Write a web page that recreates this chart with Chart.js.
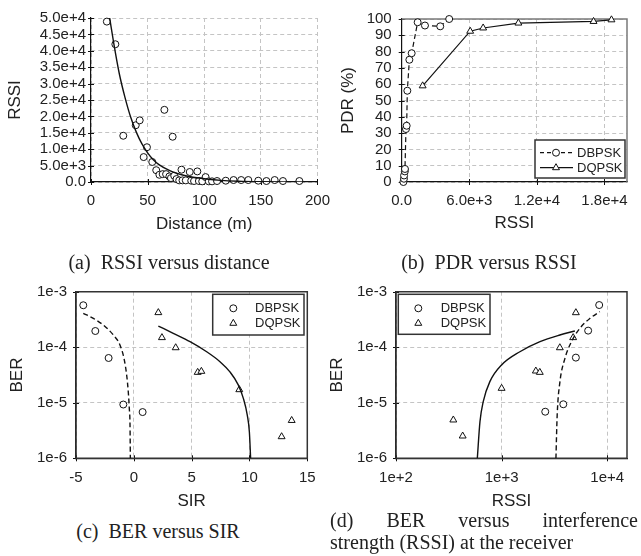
<!DOCTYPE html>
<html><head><meta charset="utf-8">
<script src="https://cdn.jsdelivr.net/npm/chart.js@4.4.0/dist/chart.umd.min.js"></script>
<style>
body{margin:0;background:#fff;width:641px;height:556px;position:relative;overflow:hidden}
canvas{position:absolute}
.cap{position:absolute;font-family:"Liberation Serif",serif;font-size:20px;line-height:24px;color:#222;white-space:nowrap}
.l1{display:flex;justify-content:space-between}
</style></head><body>
<canvas id="ca" width="340" height="240" style="left:0;top:0;width:340px;height:240px"></canvas>
<canvas id="cb" width="316" height="240" style="left:325px;top:0;width:316px;height:240px"></canvas>
<canvas id="cc" width="330" height="245" style="left:0;top:270px;width:330px;height:245px"></canvas>
<canvas id="cd" width="319" height="245" style="left:322px;top:270px;width:319px;height:245px"></canvas>
<div class="cap" style="left:0;top:250px;width:338px;text-align:center">(a)&ensp;RSSI versus distance</div>
<div class="cap" style="left:339px;top:250px;width:300px;text-align:center">(b)&ensp;PDR versus RSSI</div>
<div class="cap" style="left:0;top:519px;width:316px;text-align:center">(c)&ensp;BER versus SIR</div>
<div class="cap" style="left:330px;top:509px;width:308px;line-height:22px"><div class="l1"><span>(d)</span><span>BER</span><span>versus</span><span>interference</span></div><div>strength (RSSI) at the receiver</div></div>
<script>
// ---------- data ----------
const seriesNames = ['DBPSK', 'DQPSK'];

// (a) RSSI versus distance
const distA = [14, 21.5, 28.5, 39.5, 43, 46.5, 49.4, 54.1, 57.6, 60.4, 63.3, 64.8, 66.3, 69.2, 70.6, 72.1, 73.5, 75.5, 77.9, 79.9, 80.8, 83.7, 87.2, 88.5, 91, 93.9, 95.3, 98.2, 101.2, 104, 106.9, 111.3, 119, 125.9, 132.6, 138.9, 147.7, 154.9, 162.2, 169.5, 184];
const rssiA = [48900, 42000, 14100, 17300, 18800, 7600, 10600, 6100, 3600, 2200, 2400, 22000, 2400, 1700, 1200, 13800, 1900, 900, 500, 3750, 500, 500, 3050, 400, 300, 3230, 300, 200, 1500, 200, 200, 300, 400, 600, 600, 600, 400, 300, 600, 300, 300];
const fitDistA = [16.5, 20, 25, 30, 35, 40, 45, 50, 55, 60, 70, 80, 90, 100, 115, 130, 150, 175, 200];
const fitRssiA = [50000, 42500, 33000, 25800, 19800, 15200, 11600, 8900, 6800, 5300, 3400, 2200, 1450, 1000, 500, 250, 100, 30, 0];
const aXTicks = [0, 50, 100, 150, 200];
const aXTickLabels = ['0', '50', '100', '150', '200'];
const aYTicks = [0, 5000, 10000, 15000, 20000, 25000, 30000, 35000, 40000, 45000, 50000];
const aYTickLabels = ['0.0', '5.0e+3', '1.0e+4', '1.5e+4', '2.0e+4', '2.5e+4', '3.0e+4', '3.5e+4', '4.0e+4', '4.5e+4', '5.0e+4'];

// (b) PDR versus RSSI
const bpskRssiB = [150, 200, 210, 280, 290, 380, 440, 500, 680, 885, 1416, 2063, 3420, 4215];
const bpskPdrB = [0, 2, 4, 6.5, 8, 32.5, 34.5, 56, 75, 79, 98, 96, 95.5, 100];
const qpskRssiB = [1860, 6080, 7230, 10360, 17030, 18620];
const qpskPdrB = [59, 92.5, 94.5, 97.5, 98.5, 99.5];
const bXTicks = [0, 6000, 12000, 18000];
const bXTickLabels = ['0.0', '6.0e+3', '1.2e+4', '1.8e+4'];
const bYTicks = [0, 10, 20, 30, 40, 50, 60, 70, 80, 90, 100];
const bYTickLabels = ['0', '10', '20', '30', '40', '50', '60', '70', '80', '90', '100'];

// (c) BER versus SIR
const bpskSirC = [-4.37, -3.33, -2.18, -0.91, 0.76];
const bpskBerC = [5.7e-4, 1.96e-4, 6.4e-5, 9.3e-6, 6.8e-6];
const qpskSirC = [2.12, 2.43, 3.62, 5.52, 5.84, 9.12, 12.78, 13.65];
const qpskBerC = [4.2e-4, 1.49e-4, 9.8e-5, 3.53e-5, 3.68e-5, 1.72e-5, 2.45e-6, 4.8e-6];
const bpskFitSirC = [-4.37, -3.5, -2.64, -1.77, -1.2, -0.85, -0.62, -0.48, -0.39, -0.33, -0.3];
const bpskFitBerC = [4.07e-4, 3.31e-4, 2.51e-4, 1.66e-4, 1.1e-4, 6.3e-5, 3.16e-5, 1.58e-5, 7.9e-6, 4.0e-6, 1e-6];
const qpskFitSirC = [2.12, 3.41, 4.86, 6.3, 7.45, 8.31, 9.03, 9.47, 9.81, 9.99, 10.1];
const qpskFitBerC = [2.41e-4, 1.78e-4, 1.26e-4, 8.3e-5, 5.5e-5, 3.6e-5, 2.1e-5, 1.2e-5, 6.0e-6, 3.0e-6, 1e-6];
const cXTicks = [-5, 0, 5, 10, 15];
const cXTickLabels = ['-5', '0', '5', '10', '15'];
const berTicks = [1e-6, 1e-5, 1e-4, 1e-3];
const berTickLabels = ['1e-6', '1e-5', '1e-4', '1e-3'];

// (d) BER versus interference strength (RSSI)
const bpskRssiD = [8400, 6600, 5050, 3840, 2590];
const bpskBerD = [5.75e-4, 1.99e-4, 6.5e-5, 9.4e-6, 6.9e-6];
const qpskRssiD = [5050, 4760, 3560, 2110, 2300, 1000, 349, 428];
const qpskBerD = [4.19e-4, 1.49e-4, 9.8e-5, 3.73e-5, 3.53e-5, 1.82e-5, 4.9e-6, 2.52e-6];
const qpskFitRssiD = [589, 624, 670, 774, 1000, 1490, 2310, 3560, 4940];
const qpskFitBerD = [1e-6, 4.57e-6, 1.05e-5, 2.4e-5, 4.8e-5, 8.3e-5, 1.26e-4, 1.66e-4, 1.96e-4];
const bpskFitRssiD = [3270, 3360, 3570, 3980, 4590, 5510, 6850, 8510];
const bpskFitBerD = [1e-6, 6e-6, 2.4e-5, 6.3e-5, 1.26e-4, 2.19e-4, 3.3e-4, 4.37e-4];
const dXTicks = [100, 1000, 10000];
const dXTickLabels = ['1e+2', '1e+3', '1e+4'];

// ---------- helpers ----------
const pts = (xs, ys) => xs.map((x, i) => ({x: x, y: ys[i]}));
const INK = '#111';
const GRID = '#c4c4c4';
const tickFont = {family: 'Liberation Sans', size: 15};
const titleFont = {family: 'Liberation Sans', size: 17};

const crossTicks = {
  id: 'crossTicks',
  beforeDatasetsDraw(chart, args, o) {
    const ctx = chart.ctx, a = chart.chartArea, len = o.len || 3;
    const xs = chart.scales.x, ys = chart.scales.y;
    ctx.save();
    ctx.strokeStyle = o.color || INK; ctx.lineWidth = 1;
    xs.ticks.forEach(t => { const p = Math.round(xs.getPixelForValue(t.value)) + 0.5;
      ctx.beginPath(); ctx.moveTo(p, a.bottom - len); ctx.lineTo(p, a.bottom + len); ctx.stroke(); });
    ys.ticks.forEach(t => { const p = Math.round(ys.getPixelForValue(t.value)) + 0.5;
      ctx.beginPath(); ctx.moveTo(a.left - len, p); ctx.lineTo(a.left + len, p); ctx.stroke(); });
    ctx.restore();
  }
};
const frame = {
  id: 'frame',
  beforeDatasetsDraw(chart, args, o) {
    if (!o.color) return;
    const ctx = chart.ctx, a = chart.chartArea;
    ctx.save(); ctx.strokeStyle = o.color; ctx.lineWidth = o.width || 1.5;
    ctx.beginPath();
    ctx.moveTo(a.left, a.top); ctx.lineTo(a.right, a.top); ctx.lineTo(a.right, a.bottom);
    if (o.full) { ctx.lineTo(a.left, a.bottom); ctx.closePath(); }
    ctx.stroke(); ctx.restore();
  }
};
const boxLegend = {
  id: 'boxLegend',
  afterDraw(chart, args, o) {
    if (!o.items) return;
    const ctx = chart.ctx;
    ctx.save();
    ctx.fillStyle = '#fff'; ctx.fillRect(o.x, o.y, o.w, o.h);
    ctx.strokeStyle = '#333'; ctx.lineWidth = 1.5; ctx.strokeRect(o.x, o.y, o.w, o.h);
    o.items.forEach((it, i) => {
      const cy = o.y + o.first + i * o.step;
      if (it.line) {
        ctx.strokeStyle = INK; ctx.lineWidth = 1.2; ctx.setLineDash(it.dash || []);
        ctx.beginPath(); ctx.moveTo(o.lx0, cy); ctx.lineTo(o.lx1, cy); ctx.stroke(); ctx.setLineDash([]);
      }
      ctx.fillStyle = '#fff'; ctx.strokeStyle = INK; ctx.lineWidth = 1;
      Chart.helpers.drawPoint(ctx, {pointStyle: it.style, radius: it.style === 'triangle' ? 4 : 3.5, rotation: 0, borderWidth: 1}, o.mx, cy);
      ctx.fillStyle = '#222'; ctx.font = '13px "Liberation Sans"'; ctx.textBaseline = 'middle'; ctx.textAlign = 'left';
      ctx.fillText(it.text, o.tx, cy + 0.5);
    });
    ctx.restore();
  }
};

function fixed(list) { return s => { s.ticks = list.map(v => ({value: v})); }; }
function xAxis(type, min, max, ticks, labels, title, tPadBottom, lblPad, height) {
  return {
    type: type, min: min, max: max, position: 'bottom',
    afterBuildTicks: fixed(ticks),
    afterFit: s => { s.height = height; },
    ticks: {font: tickFont, color: '#222', padding: lblPad, maxRotation: 0, autoSkip: false,
            callback: (v, i) => labels[i]},
    grid: {color: GRID, drawTicks: false, lineWidth: 1},
    border: {color: INK, width: 1.2, dash: [4, 3]},
    title: {display: true, text: title, font: titleFont, color: '#222', padding: {top: 0, bottom: tPadBottom}}
  };
}
function yAxis(type, min, max, ticks, labels, title, tPad, lblPad, width) {
  return {
    type: type, min: min, max: max,
    afterBuildTicks: fixed(ticks),
    afterFit: s => { s.width = width; },
    ticks: {font: tickFont, color: '#222', padding: lblPad, autoSkip: false,
            callback: (v, i) => labels[i]},
    grid: {color: GRID, drawTicks: false, lineWidth: 1},
    border: {color: INK, width: 1.2, dash: [4, 3]},
    title: {display: true, text: title, font: titleFont, color: '#222', padding: {top: tPad, bottom: 0}}
  };
}
const circ = {pointStyle: 'circle', pointRadius: 3.5, pointBorderWidth: 1, pointBorderColor: INK, pointBackgroundColor: '#fff', clip: false};
const tri = {pointStyle: 'triangle', pointRadius: 4, pointBorderWidth: 1, pointBorderColor: INK, pointBackgroundColor: '#fff', clip: false};
const curve = (dash) => ({showLine: true, pointRadius: 0, borderColor: INK, borderWidth: 1.4, borderDash: dash, cubicInterpolationMode: 'monotone', fill: false});
const base = {responsive: false, animation: false, devicePixelRatio: 1,
  plugins: {legend: {display: false}, tooltip: {enabled: false}}};

Chart.defaults.font.family = 'Liberation Sans';

// (a)
new Chart(document.getElementById('ca'), {
  type: 'scatter',
  data: {datasets: [
    Object.assign({data: pts(fitDistA, fitRssiA)}, curve([])),
    Object.assign({data: pts(distA, rssiA), showLine: false}, circ)
  ]},
  options: Object.assign({}, base, {
    layout: {padding: {top: 18, right: 20, left: 0, bottom: 0}},
    scales: {
      x: xAxis('linear', 0, 200, aXTicks, aXTickLabels, 'Distance (m)', 5, 10, 58),
      y: yAxis('linear', 0, 50000, aYTicks, aYTickLabels, 'RSSI', 5, 5, 91)
    },
    plugins: Object.assign({}, base.plugins, {crossTicks: {len: 3}})
  }),
  plugins: [crossTicks, frame, boxLegend]
});

// (b)
new Chart(document.getElementById('cb'), {
  type: 'scatter',
  data: {datasets: [
    Object.assign({data: pts(bpskRssiB, bpskPdrB), showLine: true, borderColor: INK, borderWidth: 1.2, borderDash: [5, 3]}, circ),
    Object.assign({data: pts(qpskRssiB, qpskPdrB), showLine: true, borderColor: INK, borderWidth: 1.2}, tri)
  ]},
  options: Object.assign({}, base, {
    layout: {padding: {top: 18, right: 14, left: 0, bottom: 0}},
    scales: {
      x: xAxis('linear', 0, 20000, bXTicks, bXTickLabels, 'RSSI', 6, 10, 58),
      y: yAxis('linear', 0, 100, bYTicks, bYTickLabels, 'PDR (%)', 13, 10, 76.7)
    },
    plugins: Object.assign({}, base.plugins, {
      crossTicks: {len: 3},
      frame: {color: '#7a7a7a', width: 1.5},
      boxLegend: {x: 210, y: 140, w: 90, h: 38, first: 12.7, step: 15, lx0: 215, lx1: 248, mx: 231, tx: 252,
        items: [{text: seriesNames[0], style: 'circle', line: true, dash: [4, 3]}, {text: seriesNames[1], style: 'triangle', line: true}]}
    })
  }),
  plugins: [crossTicks, frame, boxLegend]
});

// (c)
new Chart(document.getElementById('cc'), {
  type: 'scatter',
  data: {datasets: [
    Object.assign({data: pts(bpskFitSirC, bpskFitBerC)}, curve([5, 3])),
    Object.assign({data: pts(qpskFitSirC, qpskFitBerC)}, curve([])),
    Object.assign({data: pts(bpskSirC, bpskBerC)}, circ),
    Object.assign({data: pts(qpskSirC, qpskBerC)}, tri)
  ]},
  options: Object.assign({}, base, {
    layout: {padding: {top: 21.7, right: 22.7, left: 0, bottom: 0}},
    scales: {
      x: xAxis('linear', -5, 15, cXTicks, cXTickLabels, 'SIR', 3, 11, 56.7),
      y: yAxis('logarithmic', 1e-6, 1e-3, berTicks, berTickLabels, 'BER', 7, 9, 76)
    },
    plugins: Object.assign({}, base.plugins, {
      crossTicks: {len: 3},
      frame: {color: '#333', width: 1.5, full: true},
      boxLegend: {x: 212.7, y: 24.3, w: 91.3, h: 40.7, first: 14, step: 15, mx: 233.3, tx: 255,
        items: [{text: seriesNames[0], style: 'circle'}, {text: seriesNames[1], style: 'triangle'}]}
    })
  }),
  plugins: [crossTicks, frame, boxLegend]
});

// (d)
new Chart(document.getElementById('cd'), {
  type: 'scatter',
  data: {datasets: [
    Object.assign({data: pts(bpskFitRssiD, bpskFitBerD)}, curve([5, 3])),
    Object.assign({data: pts(qpskFitRssiD, qpskFitBerD)}, curve([])),
    Object.assign({data: pts(bpskRssiD, bpskBerD)}, circ),
    Object.assign({data: pts(qpskRssiD, qpskBerD)}, tri)
  ]},
  options: Object.assign({}, base, {
    layout: {padding: {top: 21.7, right: 14, left: 0, bottom: 0}},
    scales: {
      x: xAxis('logarithmic', 100, 15400, dXTicks, dXTickLabels, 'RSSI', 3, 11, 56.7),
      y: yAxis('logarithmic', 1e-6, 1e-3, berTicks, berTickLabels, 'BER', 5, 9, 74)
    },
    plugins: Object.assign({}, base.plugins, {
      crossTicks: {len: 3},
      frame: {color: '#333', width: 1.5, full: true},
      boxLegend: {x: 76.3, y: 24.3, w: 91.7, h: 40, first: 14, step: 15, mx: 96.3, tx: 118.7,
        items: [{text: seriesNames[0], style: 'circle'}, {text: seriesNames[1], style: 'triangle'}]}
    })
  }),
  plugins: [crossTicks, frame, boxLegend]
});
</script>
</body></html>
